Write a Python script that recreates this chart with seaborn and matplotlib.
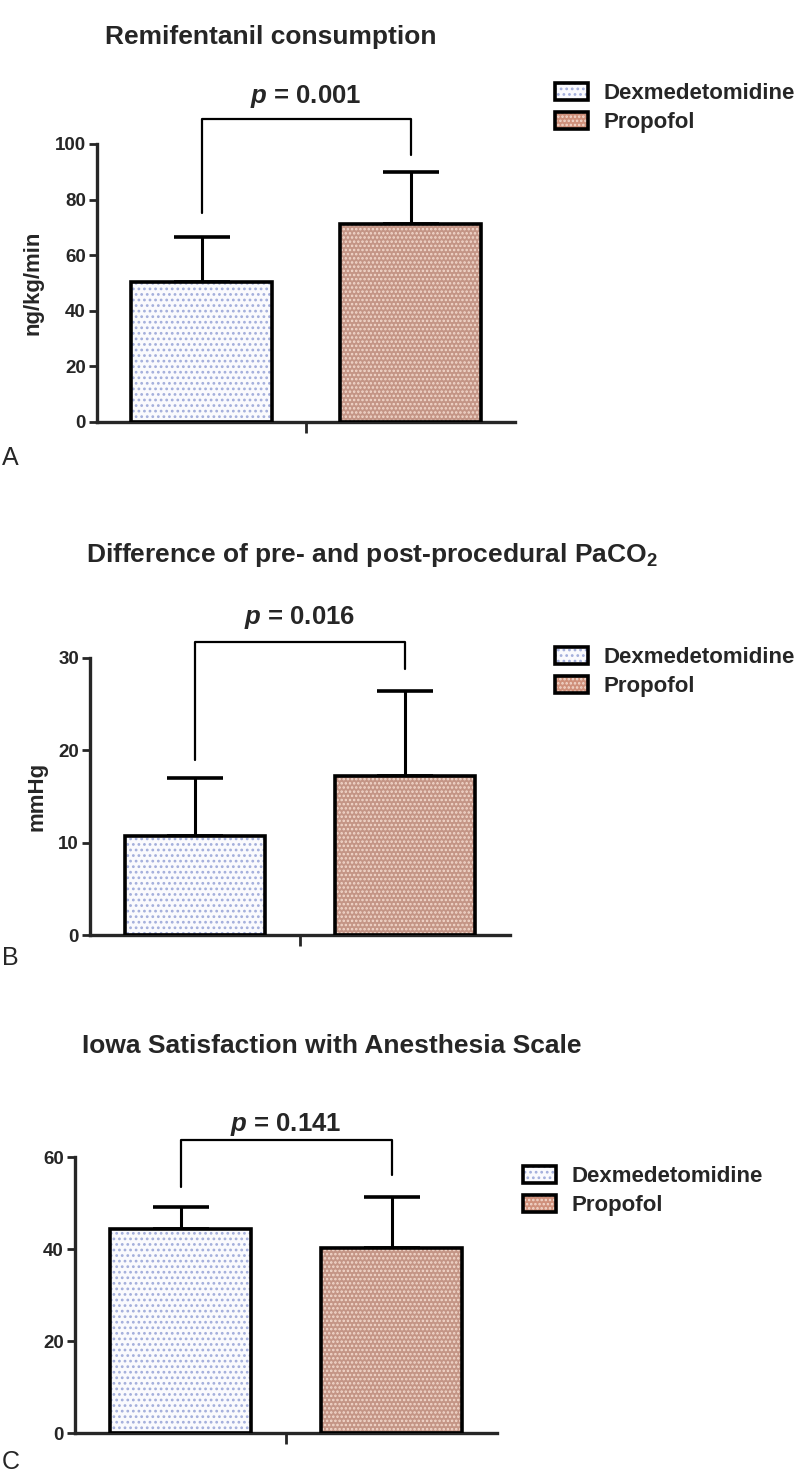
import matplotlib
matplotlib.use("Agg")
import matplotlib.pyplot as plt
import seaborn as sns
import pandas as pd
from matplotlib.patches import Patch, Rectangle
from matplotlib.legend_handler import HandlerTuple

groups = ["Dexmedetomidine", "Propofol"]

remi_mean = [50.4, 71.4]
remi_sd = [16.2, 18.4]
paco2_mean = [10.7, 17.2]
paco2_sd = [6.3, 9.2]
isas_mean = [44.4, 40.3]
isas_sd = [4.7, 10.9]

p_values = ["0.001", "0.016", "0.141"]
titles = ["Remifentanil consumption",
          "Difference of pre- and post-procedural PaCO$_2$",
          "Iowa Satisfaction with Anesthesia Scale"]
ylabels = ["ng/kg/min", "mmHg", ""]
yticks_list = [[0, 20, 40, 60, 80, 100], [0, 10, 20, 30], [0, 20, 40, 60]]
letters = ["A", "B", "C"]

face = {"Dexmedetomidine": "#fafafd", "Propofol": "#cf907b"}
dots = {"Dexmedetomidine": "#a3aedb", "Propofol": "#f3d9cd"}
hatches = {"Dexmedetomidine": "...", "Propofol": "...."}

sns.set_style("ticks")
plt.rcParams["font.family"] = ["Liberation Sans", "DejaVu Sans"]
plt.rcParams["font.weight"] = "bold"
plt.rcParams["mathtext.fontset"] = "custom"
plt.rcParams["mathtext.rm"] = "Liberation Sans:bold"
plt.rcParams["mathtext.it"] = "Liberation Sans:italic:bold"
plt.rcParams["hatch.linewidth"] = 1.2

W, H = 800, 1484
fig = plt.figure(figsize=(W / 100, H / 100), dpi=100)


def px_axes(left, right, top, bottom):
    return fig.add_axes([left / W, 1 - bottom / H, (right - left) / W, (bottom - top) / H])


def draw_panel(ax, mean, sd, yticks, ylabel, p_text, legs, bracket_y, text_y):
    df = pd.DataFrame({"group": groups, "value": mean})
    sns.barplot(data=df, x="group", y="value", hue="group", palette=face, width=0.67,
                errorbar=None, legend=False, ax=ax, zorder=2)
    for patch, g in zip(list(ax.patches), groups):
        patch.set_hatch(hatches[g])
        patch.set_edgecolor(dots[g])
        patch.set_linewidth(0)
        ax.add_patch(Rectangle(patch.get_xy(), patch.get_width(), patch.get_height(),
                               fill=False, ec="black", lw=2.6, zorder=3))
    ax.errorbar([0, 1], mean, yerr=[[0, 0], sd], fmt="none", ecolor="black",
                elinewidth=2.2, capsize=20, capthick=2.6, zorder=1)
    # significance bracket
    ax.plot([0, 0, 1, 1], [legs[0], bracket_y, bracket_y, legs[1]], color="black",
            lw=1.6, clip_on=False)
    ax.text(0.5, text_y, r"$p$ = " + p_text, ha="center", va="center", fontsize=18.5,
            fontweight="bold")
    ax.set_xlim(-0.5, 1.5)
    ax.set_ylim(0, yticks[-1])
    ax.set_yticks(yticks)
    ax.set_xticks([0.5])
    ax.set_xticklabels([])
    ax.set_xlabel("")
    ax.set_ylabel(ylabel, fontsize=16, fontweight="bold", labelpad=8)
    sns.despine(ax=ax)
    for s in ["left", "bottom"]:
        ax.spines[s].set_linewidth(2.4)
    ax.tick_params(axis="y", direction="out", length=6, width=2, labelsize=13.5, pad=2)
    ax.tick_params(axis="x", direction="out", length=8, width=2)


def add_legend(x, y):
    handles = [(Patch(facecolor=face[g], hatch=hatches[g], edgecolor=dots[g], lw=0),
                Patch(fill=False, edgecolor="black", lw=2.6)) for g in groups]
    fig.legend(handles=handles, labels=groups, handler_map={tuple: HandlerTuple(ndivide=1)},
               loc="center left", bbox_to_anchor=(x / W, 1 - y / H), bbox_transform=fig.transFigure,
               frameon=False, fontsize=16, handlelength=1.5, handleheight=0.8,
               handletextpad=0.7, labelspacing=0.35, borderpad=0, borderaxespad=0)


axA = px_axes(97, 515, 144, 422)
draw_panel(axA, remi_mean, remi_sd, yticks_list[0], ylabels[0], p_values[0], (75, 96), 109, 117)
axB = px_axes(90, 510, 658, 935)
draw_panel(axB, paco2_mean, paco2_sd, yticks_list[1], ylabels[1], p_values[1], (19.0, 28.8), 31.7, 34.4)
axC = px_axes(75, 497, 1157, 1433)
draw_panel(axC, isas_mean, isas_sd, yticks_list[2], ylabels[2], p_values[2], (53.5, 56.0), 63.6, 67.0)

add_legend(555, 108)
add_legend(555, 672)
add_legend(523, 1191)

for (x, y), t in zip([(105, 37), (86, 555), (82, 1046)], titles):
    fig.text(x / W, 1 - y / H, t, ha="left", va="center", fontsize=19, fontweight="bold")

for y, letter in zip([458, 958, 1462], letters):
    fig.text(2 / W, 1 - y / H, letter, ha="left", va="center", fontsize=18, fontweight="normal")

fig.savefig("out.png", dpi=100)
